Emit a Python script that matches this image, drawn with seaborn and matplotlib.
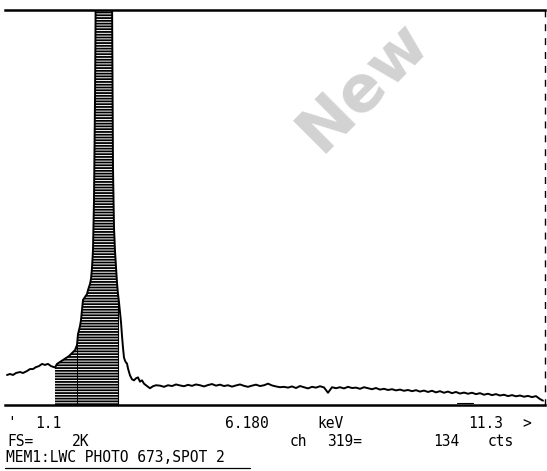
import numpy as np
import pandas as pd
import matplotlib
matplotlib.use("Agg")
import matplotlib.pyplot as plt
import seaborn as sns

# ---------------- data ----------------
KEV_PER_CHANNEL = 0.02
FULL_SCALE = 2000          # "FS= 2K"

# spectrum: channel numbers and counts
peak_channel = [2, 5, 8, 11, 15, 18, 22, 25, 28, 31, 34, 37, 40, 43, 46, 50,
                52, 55, 58, 61, 64, 67, 70, 72, 73, 75, 76, 77, 78, 80, 82,
                83, 85, 86, 87, 88, 89, 90, 91, 92, 95, 98, 101, 104, 106,
                107, 108, 109, 110, 111, 112, 113, 114, 115, 116, 117, 118,
                119, 120, 121, 122, 123, 125, 127, 129, 131, 133, 135, 137,
                139, 141, 143, 145, 148, 151]
peak_counts = [152, 157, 152, 162, 167, 162, 172, 182, 182, 192, 197, 208,
               203, 208, 197, 190, 208, 218, 228, 238, 248, 263, 278, 304,
               359, 400, 430, 481, 532, 547, 562, 582, 613, 638, 694, 785,
               1038, 1544, 2300, 2700, 3200, 3400, 3300, 2900, 2400, 2100,
               1200, 900, 780, 700, 620, 560, 520, 470, 420, 350, 290, 240,
               225, 215, 210, 185, 150, 130, 125, 135, 140, 118, 125, 108,
               100, 92, 85, 95, 100]

bg_channel = [155, 159, 163, 167, 171, 175, 179, 183, 187, 191, 195, 199,
              203, 207, 211, 215, 219, 223, 227, 231, 235, 239, 243, 247,
              251, 255, 259, 263, 267, 271, 275, 279, 283, 287, 291, 295,
              299, 303, 307, 311, 315, 319, 323, 327, 331, 335, 339, 343,
              347, 351, 355, 359, 363, 367, 371, 375, 379, 383, 387, 391,
              395, 399, 403, 407, 411, 415, 419, 423, 427, 431, 435, 439,
              443, 447, 451, 455, 459, 463, 467, 471, 475, 479, 483, 487,
              491, 495, 499, 503, 507, 511, 515, 519, 523, 527, 531, 535, 538]
bg_counts = [98, 92, 100, 96, 104, 99, 95, 102, 97, 104, 100, 94,
             101, 106, 98, 103, 96, 100, 93, 99, 104, 97, 92, 98,
             103, 96, 100, 108, 99, 94, 90, 92, 88, 94, 86, 96,
             90, 84, 92, 88, 95, 89, 62, 90, 85, 90, 84, 92,
             86, 88, 82, 90, 85, 80, 86, 78, 82, 76, 80, 74,
             78, 72, 76, 70, 75, 68, 73, 66, 72, 64, 70, 62,
             68, 60, 66, 58, 63, 57, 62, 55, 60, 52, 57, 50,
             55, 48, 52, 45, 50, 44, 48, 42, 46, 40, 45, 30, 22]

roi_channels = [50, 113]     # hatched region of interest
marker_channel = 72          # vertical marker inside the ROI
small_marker = [452, 468]    # short dash just above the baseline

row1 = [("'", 7), ("1.1", 35), ("6.180", 225), ("keV", 317), ("11.3", 468), (">", 522)]
row2 = [("FS=", 7), ("2K", 72), ("ch", 290), ("319=", 327), ("134", 433), ("cts", 488)]
row3 = [("MEM1:LWC PHOTO 673,SPOT 2", 6)]

# ---------------- figure ----------------
sns.set_style("white")
plt.rcParams["font.family"] = ["DejaVu Sans Mono", "DejaVu Sans"]
plt.rcParams["hatch.linewidth"] = 1.3
plt.rcParams["hatch.color"] = "black"

W, H = 547, 471
fig = plt.figure(figsize=(W / 100, H / 100), dpi=100)
fig.patch.set_facecolor("white")
ax = fig.add_axes([5 / W, 1 - 405 / H, 540 / W, 395 / H])

df = pd.DataFrame({
    "channel": peak_channel + bg_channel,
    "counts": peak_counts + bg_counts,
})
df["keV"] = df["channel"] * KEV_PER_CHANNEL

# hatched ROI under the peak
roi = df[(df["channel"] >= roi_channels[0]) & (df["channel"] <= roi_channels[1])]
ax.fill_between(roi["keV"], 0, roi["counts"], facecolor="none",
                edgecolor="black", hatch="------", linewidth=0, zorder=1)
ax.plot([roi_channels[1] * KEV_PER_CHANNEL] * 2,
        [0, roi["counts"].iloc[-1]], color="black", lw=0.8, zorder=2)
ax.plot([marker_channel * KEV_PER_CHANNEL] * 2, [0, 300], color="black",
        lw=0.7, zorder=2)

sns.lineplot(data=df, x="keV", y="counts", ax=ax, color="black",
             linewidth=1.4, zorder=3, estimator=None)

ax.plot([c * KEV_PER_CHANNEL for c in small_marker], [12, 12],
        color="black", lw=0.8)

ax.set_xlim(0, 540 * KEV_PER_CHANNEL)
ax.set_ylim(0, FULL_SCALE)
ax.set_xticks([])
ax.set_yticks([])
ax.set_xlabel("")
ax.set_ylabel("")
ax.spines["left"].set_visible(False)
ax.spines["top"].set_linewidth(1.8)
ax.spines["bottom"].set_linewidth(1.8)
ax.spines["right"].set_linewidth(1.0)
ax.spines["right"].set_linestyle((0, (4, 6)))
for s in ["top", "bottom", "right"]:
    ax.spines[s].set_color("black")
ax.patch.set_alpha(0)

# watermark
fig.text(363 / W, 1 - 86 / H, "New", rotation=45, fontsize=46,
         fontweight="bold", color="#d2d2d2", ha="center", va="center",
         family="DejaVu Sans", zorder=-5)

# bottom text rows
for rows, py in ((row1, 424), (row2, 441), (row3, 458)):
    for txt, px in rows:
        fig.text(px / W, 1 - py / H, txt, fontsize=10.5, color="black",
                 ha="left", va="center")
fig.add_artist(plt.Line2D([5 / W, 250 / W], [1 - 468 / H] * 2,
                          color="black", lw=0.9))

fig.savefig("out.png", dpi=100, facecolor="white")
